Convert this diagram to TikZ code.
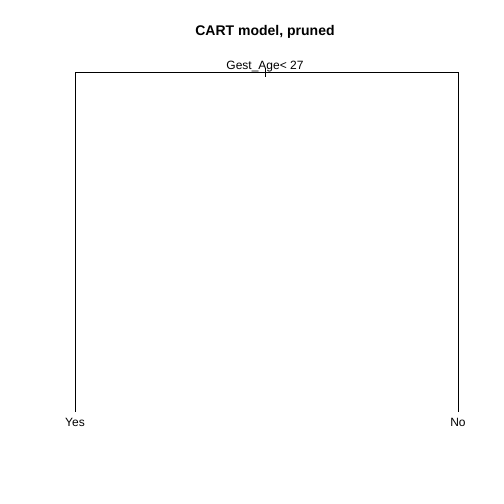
\documentclass[tikz,border=0pt]{standalone}
\usepackage{fontspec}
\setmainfont{Liberation Sans}
\usetikzlibrary{positioning}

\begin{document}
\begin{tikzpicture}[x=1pt, y=-1pt, line width=0.8pt,
    leaf/.style={font=\fontsize{12}{14}\selectfont, inner sep=6pt, anchor=north},
    split/.style={font=\fontsize{12}{14}\selectfont, inner sep=1pt, anchor=south}]
  \useasboundingbox (0,0) rectangle (504,504);

  % Title
  \node[font=\fontsize{14}{16}\selectfont\bfseries] (title) at (265,31.5) {CART model, pruned};

  % Root split
  \coordinate (root) at (265,72);
  \node[split] (rule) at (265,73) {Gest\_Age< 27};
  \draw (265,67.5) -- (265,77);

  % Leaves
  \node[leaf] (yes) at (75,412) {Yes};
  \node[leaf] (no) at (458,412) {No};

  % Branches
  \draw (root) -| (yes.north);
  \draw (root) -| (no.north);
\end{tikzpicture}
\end{document}
